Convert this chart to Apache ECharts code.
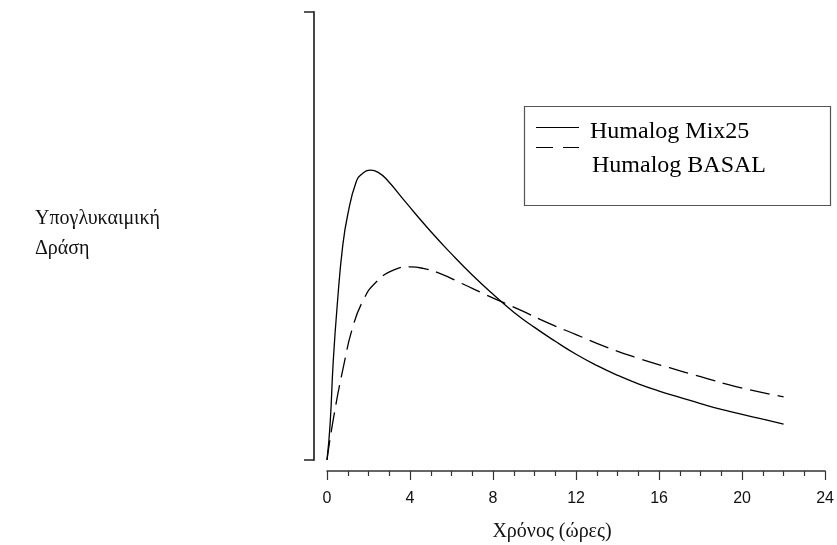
<!DOCTYPE html>
<html>
<head>
<meta charset="utf-8">
<script src="https://cdn.jsdelivr.net/npm/echarts@6/dist/echarts.min.js"></script>
<style>
  html, body { margin: 0; padding: 0; background: #fff; }
  #chart { width: 837px; height: 545px; }
</style>
</head>
<body>
<div id="chart"></div>
<script>
var myChart = echarts.init(document.getElementById('chart'));

// ώρες / τιμές ανά καμπύλη (διαβασμένες από το γράφημα)
var mixHours = [0, 0.15, 0.3, 0.5, 0.75, 1, 1.4, 1.7, 2.1, 2.5, 2.9, 3.8, 5, 6, 7, 8, 9, 10, 11, 12, 13, 14, 15, 16, 17, 18, 19, 20, 21, 22];
var mixValues = [0, 8, 22, 35, 47.5, 54.8, 62, 63.9, 64.7, 64.1, 62.5, 57.5, 51, 46, 41.3, 37, 33, 29.6, 26.5, 23.6, 21.1, 18.9, 17, 15.4, 14, 12.6, 11.3, 10.2, 9.1, 8];
var basalHours = [0, 0.3, 0.8, 1.25, 1.75, 2.3, 3.2, 4, 4.6, 5.4, 6.5, 7.7, 9.3, 10.7, 12, 13.4, 15, 16.5, 18, 19.7, 22];
var basalValues = [0, 9, 21, 29.8, 35.7, 39.4, 42.4, 43.1, 42.8, 41.7, 39.4, 36.8, 33.5, 30.5, 28, 25.3, 22.7, 20.6, 18.6, 16.4, 14.1];
var seriesNames = ['Humalog Mix25', 'Humalog BASAL'];
var xTicks = [0, 4, 8, 12, 16, 20, 24];

function pairs(xs, ys) {
    var res = [];
    for (var i = 0; i < xs.length; i++) {
        res.push([xs[i], ys[i]]);
    }
    return res;
}

var option = {
    backgroundColor: '#fff',
    animation: false,
    grid: {
        left: 327,
        right: 10,
        top: 12,
        bottom: 85
    },
    xAxis: {
        type: 'value',
        min: xTicks[0],
        max: xTicks[xTicks.length - 1],
        interval: 4,
        offset: 11,
        axisLine: { onZero: false, lineStyle: { color: '#333', width: 1.5 } },
        axisTick: { length: 9, lineStyle: { color: '#333', width: 1.2 } },
        minorTick: { show: true, splitNumber: 4, length: 5, lineStyle: { color: '#333', width: 1.2 } },
        axisLabel: {
            margin: 20,
            color: '#111',
            fontSize: 16,
            fontFamily: 'Liberation Sans, Arial, sans-serif'
        },
        splitLine: { show: false }
    },
    yAxis: {
        type: 'value',
        min: 0,
        max: 100,
        interval: 100,
        offset: 13,
        axisLine: { show: true, onZero: false, lineStyle: { color: '#333', width: 1.8 } },
        axisTick: { show: true, length: 10, lineStyle: { color: '#222', width: 1.5 } },
        axisLabel: { show: false },
        splitLine: { show: false }
    },
    graphic: [
        {
            type: 'text',
            x: 35,
            y: 204,
            style: {
                text: 'Υπογλυκαιμική\nΔράση',
                fill: '#111',
                font: '20px "Liberation Serif", "Times New Roman", serif',
                lineHeight: 30
            }
        },
        {
            type: 'text',
            x: 552,
            y: 532,
            style: {
                text: 'Χρόνος (ώρες)',
                fill: '#111',
                font: '20px "Liberation Serif", "Times New Roman", serif',
                align: 'center',
                verticalAlign: 'middle'
            }
        },
        // πλαίσιο υπομνήματος
        {
            type: 'rect',
            shape: { x: 524.5, y: 106.5, width: 306, height: 99 },
            style: { fill: '#fff', stroke: '#555', lineWidth: 1.2 },
            z: 10
        },
        {
            type: 'line',
            shape: { x1: 536, y1: 127.5, x2: 579, y2: 127.5 },
            style: { stroke: '#000', lineWidth: 1.2 },
            z: 11
        },
        {
            type: 'line',
            shape: { x1: 536, y1: 147.5, x2: 579, y2: 147.5 },
            style: { stroke: '#000', lineWidth: 1.2, lineDash: [17, 10] },
            z: 11
        },
        {
            type: 'text',
            x: 590,
            y: 131.5,
            style: {
                text: seriesNames[0],
                fill: '#000',
                font: '24px "Liberation Serif", "Times New Roman", serif',
                verticalAlign: 'middle'
            },
            z: 11
        },
        {
            type: 'text',
            x: 592,
            y: 165.5,
            style: {
                text: seriesNames[1],
                fill: '#000',
                font: '24px "Liberation Serif", "Times New Roman", serif',
                verticalAlign: 'middle'
            },
            z: 11
        }
    ],
    series: [
        {
            name: seriesNames[0],
            type: 'line',
            smooth: 0.5,
            showSymbol: false,
            lineStyle: { color: '#000', width: 1.3 },
            data: pairs(mixHours, mixValues)
        },
        {
            name: seriesNames[1],
            type: 'line',
            smooth: 0.5,
            showSymbol: false,
            lineStyle: { color: '#000', width: 1.3, type: [20, 8] },
            data: pairs(basalHours, basalValues)
        }
    ]
};
myChart.setOption(option);

window.addEventListener('resize', function () {
    myChart.resize();
});
</script>
</body>
</html>
